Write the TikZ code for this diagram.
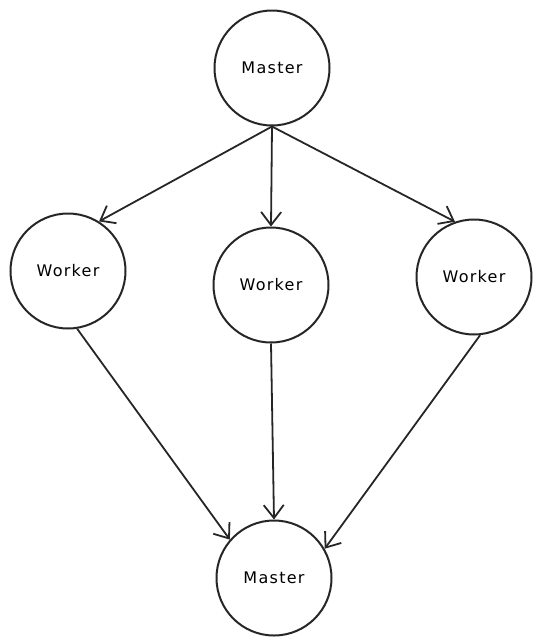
\documentclass[tikz,border=0pt]{standalone}
\usepackage{fontspec}
\setmainfont{DejaVu Sans}[LetterSpace=8]
\usetikzlibrary{arrows.meta}
\begin{document}
\begin{tikzpicture}[x=1pt,y=-1pt,
  proc/.style={circle,draw=black!85,line width=2pt,inner sep=0pt,
    minimum size=115pt,font=\fontsize{16}{18}\selectfont},
  link/.style={draw=black!85,line width=1.8pt,
    -{Straight Barb[length=13pt,width=20pt,line width=1.8pt]}}]
  \useasboundingbox (0,0) rectangle (544,643);
  % master and workers
  \node[proc] (m1) at (272,68) {Master};
  \node[proc] (w1) at (68,271) {Worker};
  \node[proc] (w2) at (271,285) {Worker};
  \node[proc] (w3) at (474,277) {Worker};
  \node[proc] (m2) at (274,578) {Master};
  % dispatch to workers
  \draw[link] (m1.south) -- (w1.58);
  \draw[link] (m1.south) -- (w2.north);
  \draw[link] (m1.south) -- (w3.109);
  % results collected
  \draw[link] (w1.-81) -- (m2.139);
  \draw[link] (w2.south) -- (m2.north);
  \draw[link] (w3.-84) -- (m2.30);
\end{tikzpicture}
\end{document}
